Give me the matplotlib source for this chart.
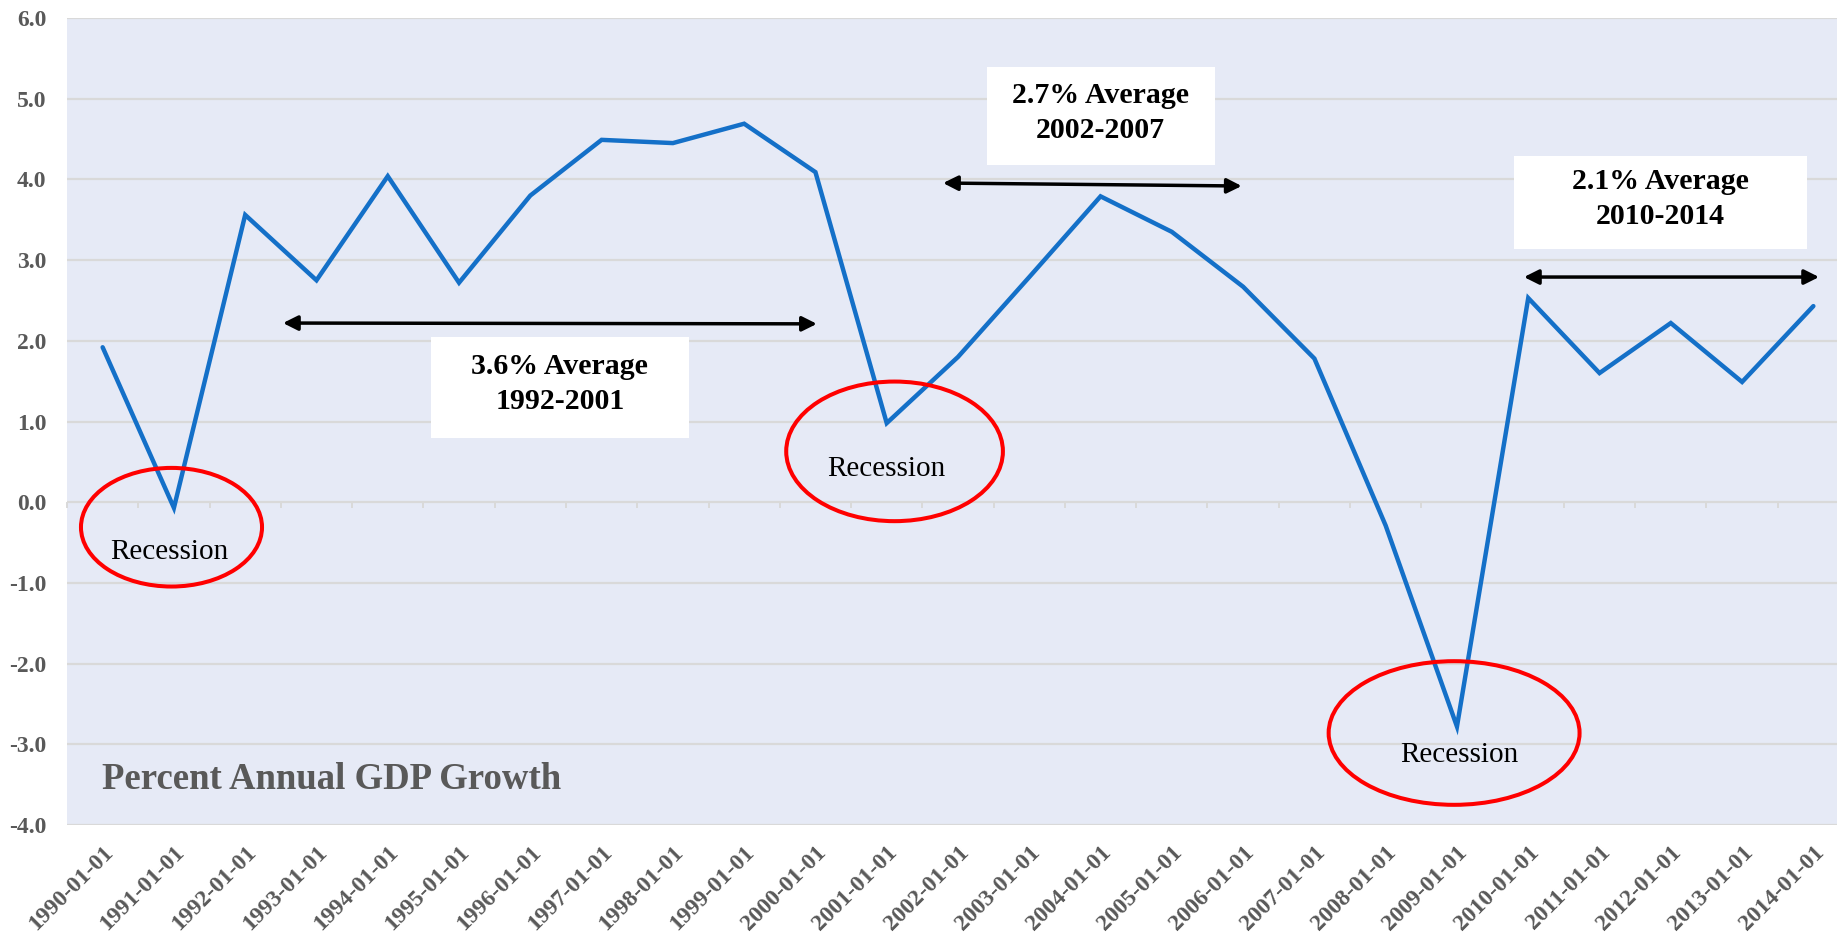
import matplotlib

matplotlib.use("Agg")
import matplotlib.pyplot as plt
import numpy as np
from matplotlib.patches import Ellipse, Rectangle

years = list(range(1990, 2015))
dates = [f"{y}-01-01" for y in years]
gdp_growth = [1.92, -0.07, 3.56, 2.75, 4.04, 2.72, 3.80, 4.49, 4.45, 4.69,
              4.09, 0.98, 1.80, 2.79, 3.79, 3.35, 2.67, 1.78, -0.29, -2.78,
              2.53, 1.60, 2.22, 1.49, 2.43]

# average periods
avg_labels = ["3.6% Average\n1992-2001", "2.7% Average\n2002-2007", "2.1% Average\n2010-2014"]

SERIF = ["Liberation Serif", "DejaVu Serif"]
GRAY = "#595959"
GRID = "#D9D9D9"
BG = "#E6EAF6"
BLUE = "#1470C8"

fig = plt.figure(figsize=(18.37, 9.33), dpi=100)
ax = fig.add_axes([67 / 1837, 108 / 933, 1782 / 1837, 807 / 933])
ax.set_facecolor(BG)

x = np.arange(len(dates))
ax.plot(x, gdp_growth, color=BLUE, linewidth=3.2, solid_capstyle="round",
        solid_joinstyle="miter", zorder=3)

ax.set_xlim(-0.5, len(dates) - 0.5)
ax.set_ylim(-4, 6)
yt = np.arange(-4, 6.1, 1)
ax.set_yticks(yt)
ax.set_yticklabels([f"{v:.1f}" for v in yt],
                   fontfamily=SERIF, fontweight="bold", fontsize=17, color=GRAY)
ax.set_xticks(x)
ax.set_xticklabels(dates, rotation=45, ha="right", rotation_mode="anchor",
                   fontfamily=SERIF, fontweight="bold", fontsize=17, color=GRAY)
ax.tick_params(axis="y", length=0, pad=15)
ax.tick_params(axis="x", length=0, pad=12)
ax.grid(axis="y", color=GRID, linewidth=1.6, zorder=1)
ax.set_axisbelow(True)
for s in ax.spines.values():
    s.set_visible(False)

# category boundary ticks on the zero line
zero_ax = ax.secondary_xaxis(0.4)
zero_ax.set_xticks(np.arange(-0.5, len(dates), 1))
zero_ax.set_xticklabels([])
zero_ax.tick_params(axis="x", direction="out", length=4, width=1.4, color=GRID)
zero_ax.spines["bottom"].set_visible(False)

# recession circles
ellipses = [(0.966, -0.31, 2.54, 1.47), (11.11, 0.63, 3.04, 1.73), (18.96, -2.86, 3.52, 1.78)]
texts = [(0.93, -0.62), (10.99, 0.41), (19.04, -3.13)]
for (cx, cy, w, h), (tx, ty) in zip(ellipses, texts):
    ax.add_patch(Ellipse((cx, cy), w, h, fill=False, edgecolor="#FF0000",
                         linewidth=2.9, zorder=4))
    ax.text(tx, ty, "Recession", fontfamily=SERIF, fontsize=21, color="black",
            ha="center", va="center", zorder=5)

# average boxes
boxes = [(4.606, 0.796, 3.618, 1.251), (12.404, 4.178, 3.198, 1.215), (19.795, 3.138, 4.11, 1.152)]
for (bx, by, bw, bh), label in zip(boxes, avg_labels):
    ax.add_patch(Rectangle((bx, by), bw, bh, facecolor="white", edgecolor="none", zorder=4))
    ax.text(bx + bw / 2, by + bh / 2 + 0.04, label, fontfamily=SERIF, fontweight="bold",
            fontsize=21.5, color="black", ha="center", va="center", linespacing=1.38, zorder=5)

arrows = [((2.53, 2.22), (10.02, 2.21)), ((11.79, 3.955), (15.98, 3.918)), ((19.94, 2.79), (24.08, 2.79))]
for start, end in arrows:
    ax.annotate("", xy=end, xytext=start,
                arrowprops=dict(arrowstyle="<|-|>", color="black", lw=2.5,
                                mutation_scale=22, shrinkA=0, shrinkB=0),
                zorder=5)

ax.text(-0.01, -3.554, "Percent Annual GDP Growth", fontfamily=SERIF, fontweight="bold",
        fontsize=26.5, color=GRAY, ha="left", va="baseline", zorder=5)

fig.savefig("out.png", dpi=100)
